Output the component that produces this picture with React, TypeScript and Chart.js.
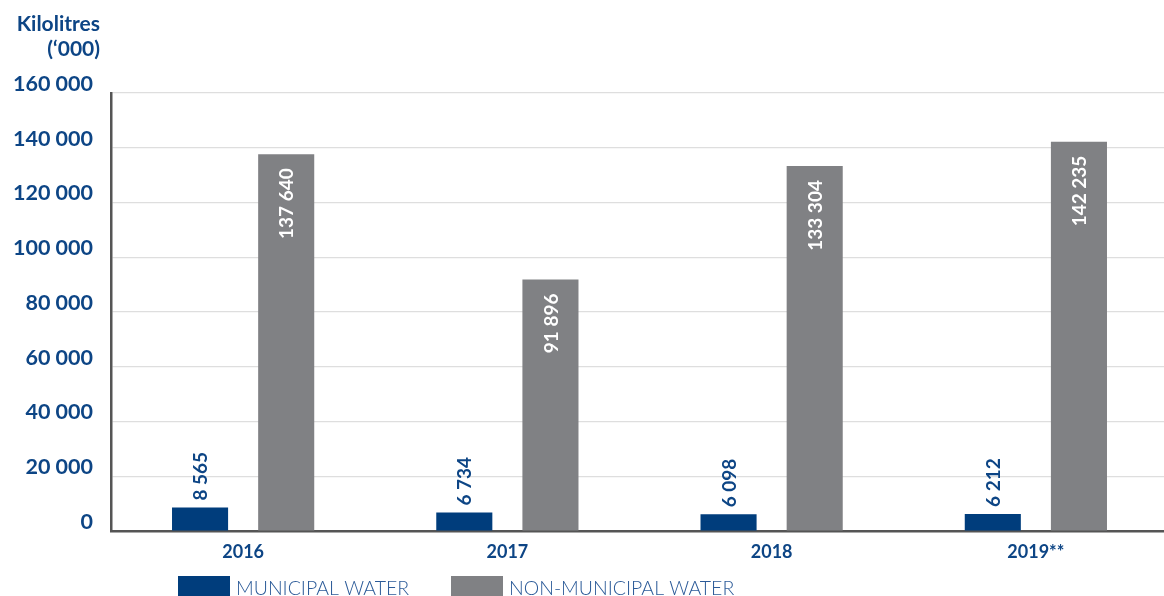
import React, { useEffect, useRef } from "react";
import { Chart, registerables } from "chart.js";

Chart.register(...registerables);

const categories = ["2016", "2017", "2018", "2019**"];
const municipal = [8565, 6734, 6098, 6212];
const nonMunicipal = [137640, 91896, 133304, 142235];
const yTicks = [0, 20000, 40000, 60000, 80000, 100000, 120000, 140000, 160000];
const titleLines = ["Kilolitres", "(\u2018000)"];
const seriesNames = ["MUNICIPAL WATER", "NON-MUNICIPAL WATER"];

const BLUE_BAR = "#003d7c";
const GREY_BAR = "#808184";
const TEXT_BLUE = "#0d4585";
const LEGEND_TEXT = "#2b5a98";

const fmt = (v: number) => String(v).replace(/\B(?=(\d{3})+(?!\d))/g, " ");

const labelPlugin = {
  id: "barLabels",
  afterDatasetsDraw(chart: any) {
    const ctx = chart.ctx;
    chart.data.datasets.forEach((ds: any, di: number) => {
      const meta = chart.getDatasetMeta(di);
      meta.data.forEach((el: any, i: number) => {
        const txt = fmt(ds.data[i]);
        ctx.save();
        ctx.font = "bold 19px Lato";
        ctx.textBaseline = "middle";
        if (di === 0) {
          ctx.translate(el.x, el.y - 7);
          ctx.rotate(-Math.PI / 2);
          ctx.textAlign = "left";
          ctx.fillStyle = TEXT_BLUE;
        } else {
          ctx.translate(el.x, el.y + 14);
          ctx.rotate(-Math.PI / 2);
          ctx.textAlign = "right";
          ctx.fillStyle = "#ffffff";
        }
        ctx.fillText(txt, 0, 1);
        ctx.restore();
      });
    });
  },
};

const decorPlugin = {
  id: "decor",
  afterDraw(chart: any) {
    const ctx = chart.ctx;
    ctx.save();
    ctx.font = "bold 21px Lato";
    ctx.fillStyle = TEXT_BLUE;
    ctx.textAlign = "right";
    ctx.textBaseline = "alphabetic";
    ctx.fillText(titleLines[0], 100, 31);
    ctx.fillText(titleLines[1], 100, 56);
    const items = [
      { x: 178, color: BLUE_BAR, text: seriesNames[0] },
      { x: 451, color: GREY_BAR, text: seriesNames[1] },
    ];
    ctx.textAlign = "left";
    ctx.font = "300 19.5px Lato";
    items.forEach((it) => {
      ctx.fillStyle = it.color;
      ctx.fillRect(it.x, 576, 52, 22);
      ctx.fillStyle = LEGEND_TEXT;
      ctx.fillText(it.text, it.x + 58, 595);
    });
    ctx.restore();
  },
};

export default function App() {
  const ref = useRef<HTMLCanvasElement | null>(null);
  useEffect(() => {
    document.body.style.margin = "0";
    if (!ref.current) return;
    const chart = new Chart(ref.current, {
      type: "bar",
      data: {
        labels: categories,
        datasets: [
          {
            label: seriesNames[0],
            data: municipal,
            backgroundColor: BLUE_BAR,
            categoryPercentage: 0.652,
            barPercentage: 0.651,
          },
          {
            label: seriesNames[1],
            data: nonMunicipal,
            backgroundColor: GREY_BAR,
            categoryPercentage: 0.652,
            barPercentage: 0.651,
          },
        ],
      },
      options: {
        animation: false,
        responsive: false,
        maintainAspectRatio: false,
        layout: { padding: { top: 93, right: 0, bottom: 0, left: 0 } },
        plugins: {
          legend: { display: false },
          tooltip: { enabled: false },
        },
        scales: {
          x: {
            grid: { display: false, drawTicks: false },
            border: { display: true, color: "#555555", width: 2.5 },
            ticks: {
              padding: 10,
              color: TEXT_BLUE,
              font: { family: "Lato", size: 18, weight: "bold" },
            },
            afterFit: (s: any) => {
              s.height = 65;
            },
          },
          y: {
            min: 0,
            max: 160000,
            afterBuildTicks: (s: any) => {
              s.ticks = yTicks.map((v) => ({ value: v }));
            },
            grid: { color: "#dedede", lineWidth: 1.2, drawTicks: false },
            border: { display: true, color: "#555555", width: 2.5 },
            ticks: {
              padding: 18,
              labelOffset: -9,
              color: TEXT_BLUE,
              font: { family: "Lato", size: 21.5, weight: "bold" },
              callback: (v: any) => fmt(Number(v)),
            },
            afterFit: (s: any) => {
              s.width = 111;
            },
          },
        },
      },
      plugins: [labelPlugin, decorPlugin],
    });
    return () => chart.destroy();
  }, []);
  return (
    <div style={{ width: 1164, height: 596, overflow: "hidden" }}>
      <canvas ref={ref} width={1168} height={596} style={{ display: "block" }} />
    </div>
  );
}
